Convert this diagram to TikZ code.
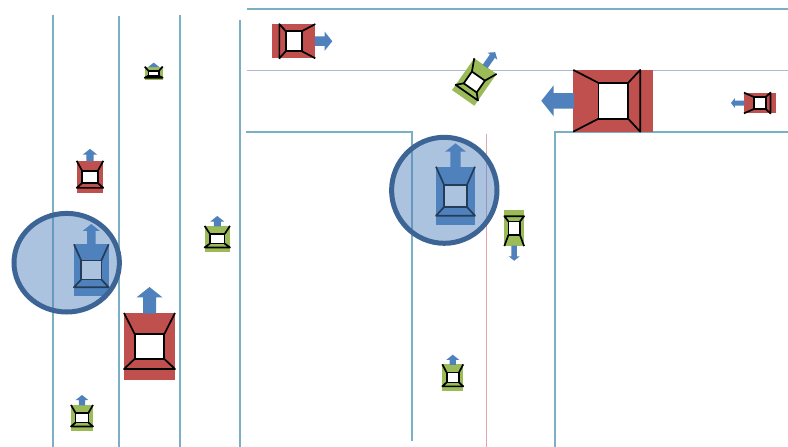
\documentclass[tikz,border=0pt]{standalone}
\usepackage{xcolor}
\usepackage{tikz}
\definecolor{lanecolor}{RGB}{122,176,194}
\definecolor{dashcolor}{RGB}{170,186,208}
\definecolor{borderred}{RGB}{222,168,172}
\definecolor{carred}{RGB}{192,80,77}
\definecolor{cargreen}{RGB}{155,187,89}
\definecolor{carblue}{RGB}{79,129,189}
\definecolor{ringblue}{RGB}{60,101,150}
% centre x, centre y, heading, width, length, colour, arrow length, arrow head width
\newcommand{\vehicle}[8]{
  \begin{scope}[shift={(#1,#2)},rotate=#3,x=#4pt,y=#5pt]
    \fill[#6] (-.5,-.5) rectangle (.5,.5);
    \begin{scope}[shift={(0,.5)},x=1pt,y=1pt]
      \fill[carblue] ({-#8/4},-.5) -- ({-#8/4},{#7-.4*#8}) -- ({-#8/2},{#7-.4*#8}) -- (0,#7)
        -- ({#8/2},{#7-.4*#8}) -- ({#8/4},{#7-.4*#8}) -- ({#8/4},-.5) -- cycle;
    \end{scope}
    \draw[carline, fill=white] (-.29,-.185) rectangle (.29,.185);
    \draw[carline] (-.5,.5) -- (-.29,.185) (.5,.5) -- (.29,.185);
    \draw[carline] (-.29,-.185) -- (-.5,-.336) -- (.5,-.336) -- (.29,-.185);
  \end{scope}
}
\begin{document}
\begin{tikzpicture}[
    x=1pt, y=-1pt,
    lane/.style={draw=lanecolor, line width=2.6pt},
    thinlane/.style={draw=dashcolor, line width=1.8pt},
    border/.style={draw=borderred, line width=1.7pt},
    carline/.style={draw=black, line width=1.7pt, line join=round},
    ring/.style={draw=ringblue, line width=5pt, fill=carblue, fill opacity=.47}
]
\useasboundingbox (0,0) rectangle (788,447);
\fill[white] (0,0) rectangle (788,447);

\draw[lane] (53,15) -- (53,447);
\draw[lane] (119,16) -- (119,447);
\draw[lane] (180,15) -- (180,447);
\draw[lane] (240,20) -- (240,447);
\draw[lane] (247,9) -- (788,9);
\draw[thinlane] (247,70.5) -- (788,70.5);
\draw[lane] (246,132) -- (412,132) -- (412,441);
\draw[lane] (555,447) -- (555,132) -- (788,132);
\draw[border] (486.5,134) -- (486.5,447);

\vehicle{149.5}{346.5}{0}{51}{67}{carred}{26}{26}
\vehicle{90}{177}{0}{26.6}{32.3}{carred}{12}{14.3}
\vehicle{293.8}{41.2}{-90}{34.3}{43}{carred}{17}{19}
\vehicle{613.3}{100.8}{90}{61.7}{80}{carred}{32}{31}
\vehicle{759.8}{103}{90}{20.7}{31.7}{carred}{13}{10}
\vehicle{82}{417.8}{0}{22}{25.7}{cargreen}{10}{12.7}
\vehicle{217.3}{238.8}{0}{25.3}{25.7}{cargreen}{10}{14}
\vehicle{153.7}{73.3}{0}{18}{13.3}{cargreen}{4}{11}
\vehicle{452.8}{377.5}{0}{21}{26.4}{cargreen}{9.6}{12.7}
\vehicle{474.3}{82}{-35}{27.3}{38.8}{cargreen}{17}{12}
\vehicle{514.2}{228.2}{180}{19.7}{35.7}{cargreen}{14.7}{11}
\vehicle{91.3}{270}{0}{34.7}{51.3}{carblue}{20.3}{17}
\vehicle{455.5}{196}{0}{39}{58.6}{carblue}{23.4}{20.7}

\draw[ring] (66.7,262.7) ellipse [x radius=52.7, y radius=49.3];
\draw[ring] (444.3,190.3) ellipse [x radius=52.7, y radius=53];
\end{tikzpicture}
\end{document}
